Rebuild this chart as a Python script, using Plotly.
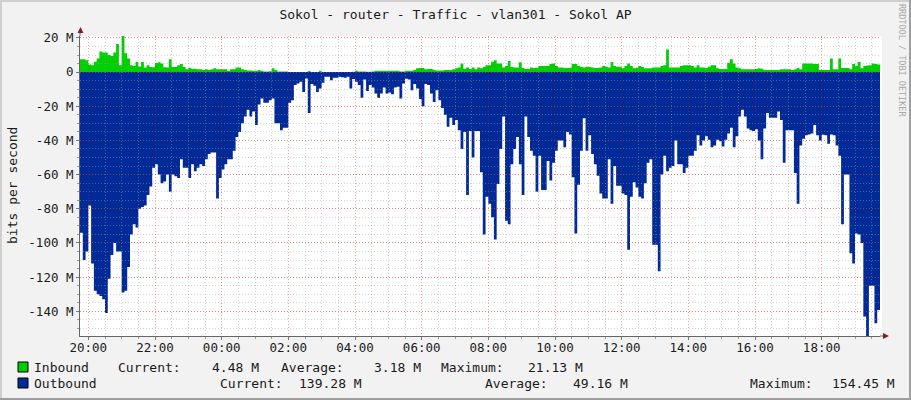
import pandas as pd
import plotly.graph_objects as go

# rrdtool / cacti style traffic graph, 5 minute samples over 24 h, Mbit/s
title = 'Sokol - router - Traffic - vlan301 - Sokol AP'
start = '2023-01-01 19:45'
step = '5min'

inbound = [
    7.5, 7.5, 7, 4.5, 4, 6, 8, 12, 11.4, 11.4, 10, 9.4,
    11.4, 16.5, 4, 21.13, 11, 8, 4, 3.5, 5.9, 3.3, 5.9, 2.7,
    4, 3, 2.8, 5.3, 5.7, 5, 2.8, 2.7, 7.5, 3, 3, 4,
    4.7, 3, 1.6, 2.5, 2, 2, 1.6, 1.6, 1.3, 1.6, 1.2, 1.6,
    2.2, 1.6, 1.6, 1.6, 1.6, 0.6, 1.6, 1.6, 2.7, 2.7, 1.6, 1.2,
    1, 0.9, 0.8, 0.8, 1.2, 0.8, 0.4, 0.4, 0.5, 2.3, 1.2, 0.4,
    0.4, 0.4, 0.3, 0.1, 0.1, 0.1, 0.1, 0.1, 0.1, 0.1, 0.6, 0.1,
    0.1, 0.1, 0.8, 0.1, 0.1, 0.1, 0.1, 0.1, 0.1, 0.1, 0.1, 0.1,
    0.1, 0.1, 0.2, 0.8, 0.4, 0.4, 0.4, 0.2, 0.2, 0.3, 0.8, 0.8,
    0.8, 0.8, 0.8, 0.8, 0.8, 0.8, 0.8, 0.4, 0.4, 0.8, 0.8, 0.8,
    1.2, 2.2, 2.4, 2.4, 1.6, 1.8, 1.8, 1.4, 1, 1, 1, 1.2,
    1.2, 1.2, 1.6, 2.2, 2.7, 5.1, 2, 2.7, 1.8, 2.7, 1.6, 2.7,
    2.2, 3.1, 4, 4, 6, 7, 5.1, 5.1, 2.7, 3.5, 6.5, 3,
    2.7, 2.7, 5.7, 2.5, 1.8, 1.8, 2.7, 2.4, 2.5, 3.5, 3.5, 3.5,
    3.5, 4.7, 5.1, 3.5, 2.7, 2.7, 2.4, 2.4, 2.6, 4.7, 4.7, 3.5,
    3.1, 2.7, 3.1, 3, 2.7, 2.4, 2.4, 2.7, 3.5, 3.1, 2.7, 5.9,
    3.5, 3.1, 3.1, 2.2, 3.5, 5.1, 3.5, 2.2, 2.5, 3.5, 3, 2.2,
    2.2, 2.2, 2.7, 2.7, 2.7, 3.5, 4, 13.3, 2.7, 2.7, 2.7, 2.7,
    3.5, 4, 4, 4, 3.5, 2.7, 4, 2.7, 2.7, 2.4, 3.1, 4,
    4, 2.2, 1.8, 1.8, 1.8, 5.5, 7.5, 5.1, 2.7, 2.2, 1.6, 1.6,
    1.6, 1.6, 1.6, 1.8, 2.2, 2, 1.2, 1.2, 1.2, 1.2, 1.2, 1.2,
    1.6, 1.6, 1.6, 1.6, 1.3, 1.6, 2.4, 1.6, 5.1, 5.1, 5.1, 5.1,
    4.7, 4.7, 1.2, 1.2, 1.2, 1.2, 8, 1.6, 1.6, 8, 2.4, 2.4,
    2.4, 1.6, 4.7, 3.5, 5.9, 2.2, 3.5, 3.9, 4, 5.1, 4.7, 4.48,
]

outbound = [
    94, 110, 105, 78, 112, 128, 130, 131, 133, 141, 121, 107,
    100, 105, 105, 129, 128, 114, 95, 89, 91, 80, 79, 78,
    72, 67, 56, 54, 60, 65, 64, 60, 70, 60, 61, 62,
    51, 56, 56, 62, 54, 58, 56, 54, 55, 51, 48, 47,
    47, 74, 62, 57, 54, 51, 51, 46, 38, 35, 30, 26,
    22, 26, 23, 31, 19, 15.5, 18, 18, 16.5, 15.5, 30, 30,
    34, 32.5, 32.5, 18, 16.5, 7.6, 6.7, 5.7, 11.6, 3.7, 24, 7,
    8, 11.6, 9.6, 6.3, 2.7, 2.7, 4.7, 3.3, 3.3, 2.7, 3, 3.3,
    2.7, 9.6, 4, 5.7, 7.6, 15, 4.3, 11, 7.6, 9, 12.5, 15,
    12.5, 9, 12.5, 12, 13, 9, 8.6, 15.5, 6.7, 3.9, 4.3, 10.6,
    7, 9.6, 15.7, 20, 7, 7.6, 12.5, 17.5, 10.6, 16.5, 21, 25,
    32, 26.7, 31, 28, 34, 45, 35, 72, 34.5, 50, 34.5, 34.5,
    58.6, 95, 73, 77, 85, 98, 65.5, 45, 26, 87, 89, 54,
    45, 38, 54, 72, 26, 38, 46, 49, 70, 49, 69, 69,
    52, 63.5, 53, 46, 40, 40, 44, 35, 36.5, 61.5, 94.5, 66,
    46, 27, 46, 37, 48, 54, 60.6, 71, 74, 74, 51, 77,
    55, 66.5, 66.5, 71, 72, 104, 73, 64.5, 67.5, 73, 74, 65,
    53, 51, 101, 101, 116.5, 60, 49, 58, 56, 55, 40, 54,
    54, 59, 56, 49, 49, 46, 37, 43, 40, 37.5, 39.6, 44,
    43, 39.6, 40.4, 43.5, 39.6, 36, 32.5, 44, 37.6, 26, 22, 26,
    33, 34, 34.5, 33.5, 40, 51, 33, 24, 26.7, 26.7, 26.7, 23,
    28, 53, 34, 34, 34, 59, 77, 43, 39, 37, 36.5, 36,
    31, 37, 40, 36.7, 37, 42, 36.5, 37, 43, 49, 89, 60,
    60, 106, 112, 94.5, 95, 100, 143, 154.45, 125, 125, 147, 139.28,
]

y_tick_values = [20, 0, -20, -40, -60, -80, -100, -120, -140]
y_tick_labels = ['20 M', '0', '-20 M', '-40 M', '-60 M', '-80 M',
                 '-100 M', '-120 M', '-140 M']
y_lower, y_upper = -154.45, 21.13

legend_names = ['Inbound', 'Outbound']
legend_colors = ['#00CF00', '#002A97']
stat_names = ['Current:', 'Average:', 'Maximum:']
stat_values = [['4.48 M', '3.18 M', '21.13 M'],
               ['139.28 M', '49.16 M', '154.45 M']]

# pixel geometry of the 911x400 canvas
W, H = 911, 400
L, R, T, B = 80, 880, 36, 336
MONO = 'DejaVu Sans Mono'
TEXT = '#1a1a1a'


def px(x):
    return (x - L) / (R - L)


def py(y):
    return (B - y) / (B - T)


times = pd.date_range(start, periods=len(outbound) + 1, freq=step)
x_range = [times[0], times[0] + pd.Timedelta('24h')]

fig = go.Figure()
fig.add_trace(go.Scatter(x=times, y=[-v for v in outbound] + [-outbound[-1]],
                         mode='lines', line=dict(width=0, shape='hv'),
                         fill='tozeroy', fillcolor=legend_colors[1],
                         hoverinfo='skip', showlegend=False))
fig.add_trace(go.Scatter(x=times, y=inbound + [inbound[-1]],
                         mode='lines', line=dict(width=0, shape='hv'),
                         fill='tozeroy', fillcolor=legend_colors[0],
                         hoverinfo='skip', showlegend=False))
# empty trace on a second subplot that only carries the grid, so the grid sits above the areas
fig.add_trace(go.Scatter(x=[], y=[], xaxis='x2', yaxis='y2', showlegend=False))

major_grid = 'rgba(255,0,0,0.38)'
minor_grid = 'rgba(160,160,160,0.45)'
tick_font = dict(family=MONO, size=12.5, color=TEXT)

fig.update_layout(
    width=W, height=H, autosize=False,
    margin=dict(l=L, r=W - R, t=T, b=H - B, pad=0),
    paper_bgcolor='#F2F2F2', plot_bgcolor='rgba(0,0,0,0)',
    template='none',
    title=dict(text=title, x=0.5, xref='container', y=1 - 14 / H, yref='container',
               xanchor='center', yanchor='middle',
               font=dict(family=MONO, size=13, color=TEXT)),
    xaxis=dict(type='date', range=x_range, domain=[0, 1], visible=False, fixedrange=True),
    yaxis=dict(range=[y_lower, y_upper], domain=[0, 1], visible=False, fixedrange=True),
    xaxis2=dict(type='date', range=x_range, domain=[0, 1], anchor='y2',
                tick0='2023-01-01 00:00', dtick=2 * 3600 * 1000, tickformat='%H:%M',
                showgrid=True, gridcolor=major_grid, griddash='1px,2px', gridwidth=1,
                ticks='outside', ticklen=3, tickcolor='#777777', ticklabelstandoff=-3,
                showline=True, linecolor='#666666', linewidth=1,
                tickfont=tick_font, zeroline=False, layer='above traces',
                minor=dict(tick0='2023-01-01 00:00', dtick=30 * 60 * 1000, showgrid=True,
                           gridcolor=minor_grid, griddash='1px,2px',
                           ticks='outside', ticklen=2, tickcolor='#999999')),
    yaxis2=dict(range=[y_lower, y_upper], domain=[0, 1], anchor='x2',
                tickmode='array', tickvals=y_tick_values, ticktext=y_tick_labels,
                showgrid=True, gridcolor=major_grid, griddash='1px,2px', gridwidth=1,
                ticks='outside', ticklen=3, tickcolor='#777777',
                showline=True, linecolor='#666666', linewidth=1,
                tickfont=tick_font, zeroline=False, layer='above traces',
                minor=dict(tickmode='linear', tick0=0, dtick=5, showgrid=True,
                           gridcolor=minor_grid, griddash='1px,2px',
                           ticks='outside', ticklen=2, tickcolor='#999999')),
)

shapes = [
    # white graph area under everything
    dict(type='rect', xref='paper', yref='paper', x0=0, x1=px(R + 2), y0=0, y1=1,
         fillcolor='white', line=dict(width=0), layer='below'),
    # frame shading
    dict(type='line', xref='paper', yref='paper', x0=px(0), x1=px(W), y0=py(1), y1=py(1),
         line=dict(color='#CFCFCF', width=2)),
    dict(type='line', xref='paper', yref='paper', x0=px(1), x1=px(1), y0=py(0), y1=py(H),
         line=dict(color='#CFCFCF', width=2)),
    dict(type='line', xref='paper', yref='paper', x0=px(0), x1=px(W), y0=py(H - 1), y1=py(H - 1),
         line=dict(color='#9E9E9E', width=2)),
    dict(type='line', xref='paper', yref='paper', x0=px(W - 1), x1=px(W - 1), y0=py(0), y1=py(H),
         line=dict(color='#9E9E9E', width=2)),
    # axis extensions and arrow heads
    dict(type='line', xref='paper', yref='paper', x0=0, x1=0, y0=1, y1=py(31),
         line=dict(color='#666666', width=1)),
    dict(type='line', xref='paper', yref='paper', x0=1, x1=px(884), y0=0, y1=0,
         line=dict(color='#666666', width=1)),
    dict(type='path', xref='paper', yref='paper',
         path=f'M {px(77.5)},{py(33)} L {px(83.5)},{py(33)} L {px(80.5)},{py(27)} Z',
         fillcolor='#7F1F1F', line=dict(width=0)),
    dict(type='path', xref='paper', yref='paper',
         path=f'M {px(883)},{py(333)} L {px(883)},{py(339)} L {px(889)},{py(336)} Z',
         fillcolor='#7F1F1F', line=dict(width=0)),
]

annotations = [
    dict(text='bits per second', x=px(12), y=py(186), textangle=-90,
         font=dict(family=MONO, size=13, color=TEXT)),
    dict(text='RRDTOOL / TOBI OETIKER', x=px(902), y=py(60), textangle=90,
         font=dict(family=MONO, size=8.5, color='#A8A8A8')),
]

# legend rows: swatch, name, then label / value pairs
row_y = [367, 383]
label_left = [[116, 279, 439], [218, 483, 748]]
value_right = [[261, 423, 585], [364, 630, 897]]
for r, name in enumerate(legend_names):
    yc = row_y[r]
    shapes.append(dict(type='rect', xref='paper', yref='paper',
                       x0=px(18), x1=px(28), y0=py(yc + 5), y1=py(yc - 5),
                       fillcolor=legend_colors[r], line=dict(color='#000000', width=1)))
    annotations.append(dict(text=name, x=px(32), y=py(yc), xanchor='left',
                            font=dict(family=MONO, size=13, color=TEXT)))
    for c, label in enumerate(stat_names):
        annotations.append(dict(text=label, x=px(label_left[r][c]), y=py(yc), xanchor='left',
                                font=dict(family=MONO, size=13, color=TEXT)))
        annotations.append(dict(text=stat_values[r][c].replace(' ', '\u00a0'),
                                x=px(value_right[r][c]), y=py(yc), xanchor='right',
                                font=dict(family=MONO, size=13, color=TEXT)))

for a in annotations:
    a.update(xref='paper', yref='paper', showarrow=False, yanchor=a.get('yanchor', 'middle'))
    a.setdefault('xanchor', 'center')

fig.update_layout(shapes=shapes, annotations=annotations)
# the page's default body margin would shift the 911x400 figure off the window
fig.write_html('out.html', config={'displayModeBar': False},
               post_script="document.body.style.margin = '0';")
